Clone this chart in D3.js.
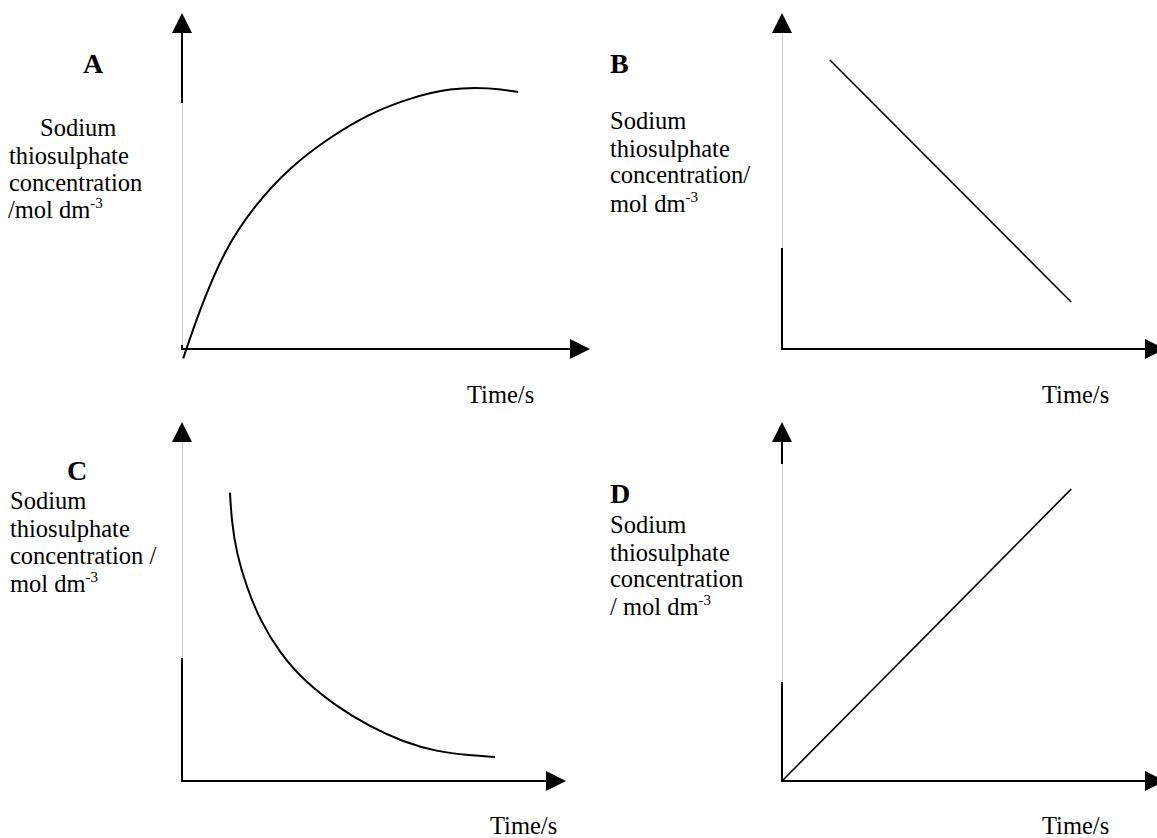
<!DOCTYPE html>
<html>
<head>
<meta charset="utf-8">
<script src="https://cdn.jsdelivr.net/npm/d3@7/dist/d3.min.js"></script>
<style>
  html, body { margin: 0; padding: 0; background: #fff; }
  svg { display: block; }
  text { font-family: "Liberation Serif", "Times New Roman", serif; fill: #000; }
</style>
</head>
<body>
<svg id="chart" width="1157" height="838"></svg>
<script>
  // ---- data (time / concentration in arbitrary units 0-100) ----
  const panels = ["A", "B", "C", "D"];

  const timeA = [0.3, 4.4, 10.5, 17.9, 26.5, 36.3, 46.1, 55.9, 65.7, 75.5, 82.4];
  const concA = [-2.8, 11.9, 29.8, 42.9, 54.2, 63.1, 70.2, 74.7, 77.7, 77.8, 76.5];

  const timeB = [12.5, 75.5];
  const concB = [86.0, 14.0];

  const timeC = [12.5, 12.9, 14.2, 16.8, 20.3, 25.5, 31.6, 40.3, 49.0, 57.6, 66.3, 75.0, 81.5];
  const concC = [80.3, 72.7, 63.4, 54.1, 44.8, 35.6, 28.1, 20.7, 15.1, 10.9, 8.2, 7.1, 6.7];

  const timeD = [0, 75.5];
  const concD = [0, 81.3];

  const yLabelA = ["Sodium", "thiosulphate", "concentration", "/mol dm"];
  const yLabelB = ["Sodium", "thiosulphate", "concentration/", "mol dm"];
  const yLabelC = ["Sodium", "thiosulphate", "concentration /", "mol dm"];
  const yLabelD = ["Sodium", "thiosulphate", "concentration", "/ mol dm"];
  const unitExp = "-3";
  const xLabel = "Time/s";

  // ---- layout ----
  const layout = {
    A: { ox: 182, oy: 349, xLen: 408, yLen: 336, t: timeA, c: concA, lab: yLabelA, curved: true,
         letter: [93, 73, "middle"], labX: [40, 9, 9, 8], labY: [136, 164, 191, 218],
         timeXY: [467, 403], black: [[0, 4], [246, 316]] },
    B: { ox: 782, oy: 349, xLen: 383, yLen: 336, t: timeB, c: concB, lab: yLabelB, curved: false,
         letter: [610, 73, "start"], labX: [610, 610, 610, 610], labY: [129, 157, 183, 212],
         timeXY: [1042, 403], black: [[0, 101]] },
    C: { ox: 182, oy: 781, xLen: 384, yLen: 359, t: timeC, c: concC, lab: yLabelC, curved: true,
         letter: [77, 480, "middle"], labX: [10, 10, 10, 10], labY: [509, 537, 564, 592],
         timeXY: [490, 834], black: [[0, 123]] },
    D: { ox: 782, oy: 781, xLen: 383, yLen: 359, t: timeD, c: concD, lab: yLabelD, curved: false,
         letter: [610, 503, "start"], labX: [610, 610, 610, 610], labY: [533, 561, 587, 615],
         timeXY: [1042, 834], black: [[0, 99], [317, 339]] }
  };

  const svg = d3.select("#chart");
  const AH = 20, AW = 10; // arrowhead length / half width

  panels.forEach(id => {
    const p = layout[id];
    const g = svg.append("g").attr("class", "panel-" + id);

    const x = d3.scaleLinear().domain([0, 100]).range([p.ox, p.ox + p.xLen]);
    const y = d3.scaleLinear().domain([0, 100]).range([p.oy, p.oy - p.yLen]);

    const x0 = x(0), y0 = y(0), xTip = x(100), yTip = y(100);

    // Y axis: thin grey line with black pieces
    g.append("line")
      .attr("x1", x0 + 0.5).attr("x2", x0 + 0.5)
      .attr("y1", y0).attr("y2", yTip + AH)
      .attr("stroke", "#c8c8c8").attr("stroke-width", 1);
    p.black.forEach(s => {
      g.append("line")
        .attr("x1", x0).attr("x2", x0)
        .attr("y1", y0 - s[0] + (s[0] === 0 ? 1 : 0)).attr("y2", y0 - s[1])
        .attr("stroke", "#000").attr("stroke-width", 2);
    });
    g.append("path")
      .attr("d", `M${x0 - AW},${yTip + AH} L${x0 + AW},${yTip + AH} L${x0},${yTip} Z`)
      .attr("fill", "#000");

    // X axis
    g.append("line")
      .attr("x1", x0 - 1).attr("x2", xTip - AH + 1)
      .attr("y1", y0).attr("y2", y0)
      .attr("stroke", "#000").attr("stroke-width", 2);
    g.append("path")
      .attr("d", `M${xTip - AH},${y0 - AW} L${xTip - AH},${y0 + AW} L${xTip},${y0} Z`)
      .attr("fill", "#000");

    // Data line
    const pts = p.t.map((t, i) => [t, p.c[i]]);
    const line = d3.line()
      .x(d => x(d[0])).y(d => y(d[1]))
      .curve(p.curved ? d3.curveBasis : d3.curveLinear);
    g.append("path")
      .datum(pts)
      .attr("d", line)
      .attr("fill", "none")
      .attr("stroke", "#000")
      .attr("stroke-width", p.curved ? 2 : 1.6);

    // Panel letter
    g.append("text")
      .attr("x", p.letter[0]).attr("y", p.letter[1])
      .attr("text-anchor", p.letter[2])
      .attr("font-size", 28).attr("font-weight", 700)
      .text(id);

    // Y label lines
    p.lab.forEach((s, i) => {
      const t = g.append("text")
        .attr("x", p.labX[i]).attr("y", p.labY[i])
        .attr("font-size", 24.5);
      t.append("tspan").text(s);
      if (i === p.lab.length - 1) {
        t.append("tspan").attr("font-size", 15).attr("dy", -10).text(unitExp);
      }
    });

    // X label
    g.append("text")
      .attr("x", p.timeXY[0]).attr("y", p.timeXY[1])
      .attr("font-size", 24.5)
      .text(xLabel);
  });
</script>
</body>
</html>
